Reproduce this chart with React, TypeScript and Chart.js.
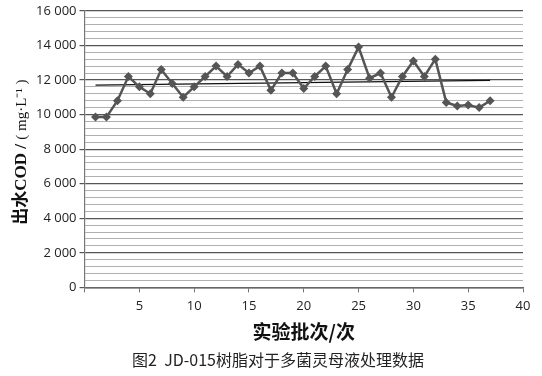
import React, { useEffect, useRef } from "react";
import { Chart, registerables } from "chart.js";

Chart.register(...registerables);

const batches = [1,2,3,4,5,6,7,8,9,10,11,12,13,14,15,16,17,18,19,20,21,22,23,24,25,26,27,28,29,30,31,32,33,34,35,36,37];
const codValues = [9850,9850,10800,12200,11600,11200,12600,11800,11000,11600,12200,12800,12200,12900,12400,12800,11400,12400,12400,11500,12200,12800,11200,12600,13900,12100,12400,11000,12200,13100,12200,13200,10700,10500,10550,10400,10800];
const trendX = [1, 37];
const trendY = [11700, 11980];
const xTitle = "实验批次/次";
const yTitleBold = "出水COD / ";
const yTitleUnit = "( mg·L⁻¹ )";
const caption = "图2  JD-015树脂对于多菌灵母液处理数据";

function fmt(v: number): string {
  if (v === 0) return "0";
  const s = String(v);
  return s.slice(0, s.length - 3) + " " + s.slice(s.length - 3);
}

const yTitlePlugin = {
  id: "yTitleMixed",
  afterDraw(chart: any) {
    const ctx = chart.ctx;
    const area = chart.chartArea;
    const cy = (area.top + area.bottom) / 2 + 3;
    ctx.save();
    ctx.translate(22, cy);
    ctx.rotate(-Math.PI / 2);
    ctx.fillStyle = "#111";
    ctx.textBaseline = "middle";
    const f1 = "bold 17px 'Liberation Serif', 'Noto Sans CJK SC'";
    const f2 = "15px 'Liberation Serif', 'Noto Sans CJK SC'";
    ctx.font = f1;
    const w1 = ctx.measureText(yTitleBold).width;
    ctx.font = f2;
    const w2 = ctx.measureText(yTitleUnit).width;
    const start = -(w1 + w2) / 2;
    ctx.font = f1;
    ctx.textAlign = "left";
    ctx.fillText(yTitleBold, start, 0);
    ctx.font = f2;
    ctx.fillText(yTitleUnit, start + w1, 0);
    ctx.restore();
  },
};

export default function App() {
  const ref = useRef<HTMLCanvasElement | null>(null);
  useEffect(() => {
    if (!ref.current) return;
    const chart = new Chart(ref.current, {
      type: "line",
      data: {
        datasets: [
          {
            data: batches.map((b, i) => ({ x: b, y: codValues[i] })),
            borderColor: "#555",
            backgroundColor: "#555",
            borderWidth: 2.5,
            pointStyle: "rectRot",
            pointRadius: 4.5,
            pointBorderWidth: 0,
            tension: 0,
          },
          {
            data: trendX.map((x, i) => ({ x, y: trendY[i] })),
            borderColor: "#111",
            borderWidth: 1.2,
            pointRadius: 0,
          },
        ],
      },
      options: {
        animation: false,
        responsive: false,
        devicePixelRatio: 1,
        layout: { padding: { left: 33, right: 19, top: 10, bottom: 6 } },
        plugins: {
          legend: { display: false },
          tooltip: { enabled: false },
          title: {
            display: true,
            position: "bottom",
            text: caption,
            color: "#222",
            font: { family: "'Noto Sans CJK SC', 'Noto Sans'", size: 16, weight: "normal" },
            padding: { top: 8, bottom: 0 },
          },
        },
        scales: {
          x: {
            type: "linear",
            min: 0,
            max: 40,
            ticks: {
              stepSize: 5,
              color: "#222",
              font: { family: "'Open Sans'", size: 13 },
              callback: (v: any) => (v === 0 ? "" : String(v)),
              padding: 6,
            },
            grid: { drawOnChartArea: false, tickLength: 5, color: "#777" },
            border: { color: "#666", width: 1.5 },
            title: {
              display: true,
              text: xTitle,
              color: "#111",
              font: { family: "'Noto Sans CJK SC'", size: 19, weight: "bold" },
              padding: { top: 0, bottom: 0 },
            },
          },
          y: {
            min: 0,
            max: 16000,
            ticks: {
              stepSize: 400,
              autoSkip: false,
              color: "#222",
              font: { family: "'Open Sans'", size: 13 },
              callback: (v: any) => (v % 2000 === 0 ? fmt(v) : ""),
              padding: 3,
            },
            grid: {
              tickLength: 5,
              color: (c: any) => (c.tick && c.tick.value % 2000 === 0 ? "#555" : "#b0b0b0"),
              tickColor: (c: any) => (c.tick && c.tick.value % 2000 === 0 ? "#555" : "rgba(0,0,0,0)"),
              lineWidth: (c: any) => (c.tick && c.tick.value % 2000 === 0 ? 1.2 : 1),
            },
            border: { color: "#777", width: 1.2 },
          },
        },
      },
      plugins: [yTitlePlugin],
    } as any);
    return () => chart.destroy();
  }, []);
  return (
    <div style={{ position: "fixed", left: 0, top: 0, width: 542, height: 376, background: "#fff" }}>
      <canvas ref={ref} width={542} height={376} />
    </div>
  );
}
